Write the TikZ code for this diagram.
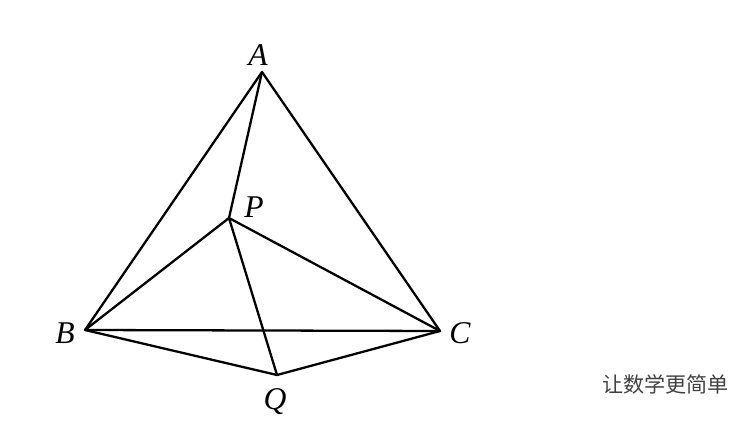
\documentclass[tikz,border=0pt]{standalone}
\usepackage{fontspec}
\setmainfont{Liberation Serif}
\newfontfamily\cjk{Noto Sans CJK SC}

\tikzset{
  edge/.style={line width=1.3pt, line join=round},
  lbl/.style={font=\fontsize{18}{20}\selectfont\itshape, inner sep=0pt}
}

\begin{document}
\begin{tikzpicture}
\useasboundingbox (0,0) rectangle (14.84,8.4);
\coordinate (A) at (5.24,6.96);
\coordinate (P) at (4.58,4.04);
\coordinate (B) at (1.70,1.80);
\coordinate (C) at (8.80,1.78);
\coordinate (Q) at (5.54,0.90);
\node[lbl] (lA) at (5.16,7.30) {A};
\node[lbl] (lP) at (5.08,4.26) {P};
\node[lbl] (lB) at (1.30,1.74) {B};
\node[lbl] (lC) at (9.20,1.74) {C};
\node[lbl] (lQ) at (5.50,0.36) {Q};
\draw[edge] (A) -- (B) -- (C) -- cycle;
\draw[edge] (A) -- (P) -- (Q);
\draw[edge] (B) -- (P) -- (C);
\draw[edge] (B) -- (Q) -- (C);
% watermark
\node[font=\cjk\fontsize{12}{14}\selectfont, text=black!75, anchor=west] (wm) at (11.92,0.72) {让数学更简单};
\end{tikzpicture}
\end{document}
